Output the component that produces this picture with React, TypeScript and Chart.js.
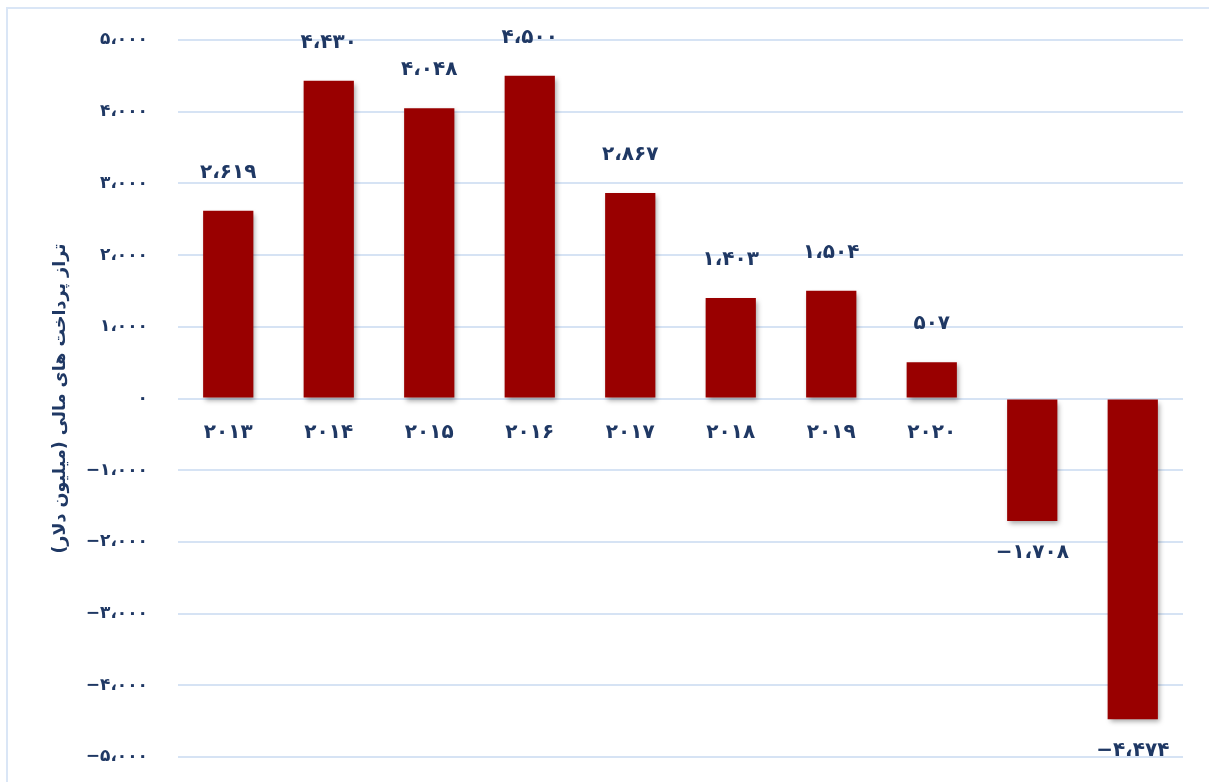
import React, { useEffect, useRef } from "react";
import { Chart, registerables } from "chart.js";

Chart.register(...registerables);

const years = ["2013", "2014", "2015", "2016", "2017", "2018", "2019", "2020", "2021", "2022"];
const balance = [2619, 4430, 4048, 4500, 2867, 1403, 1504, 507, -1708, -4474];
const yMin = -5000;
const yMax = 5000;
const yStep = 1000;
const yTitle = "تراز پرداخت های مالی (میلیون دلار)";

const FA_DIGITS = "۰۱۲۳۴۵۶۷۸۹";
const faDigits = (s: string) => s.replace(/[0-9]/g, (d) => FA_DIGITS[Number(d)]);
const faNumber = (n: number) => {
  const abs = Math.abs(n).toLocaleString("en-US").replace(/,/g, "،");
  return (n < 0 ? "−" : "") + faDigits(abs);
};

const NAVY = "#1F3864";
const FONT = "'DejaVu Sans', sans-serif";

const valueLabels = {
  id: "valueLabels",
  afterDatasetsDraw(chart: any) {
    const ctx = chart.ctx;
    const meta = chart.getDatasetMeta(0);
    ctx.save();
    ctx.font = `bold 20px ${FONT}`;
    ctx.fillStyle = NAVY;
    ctx.textAlign = "center";
    ctx.textBaseline = "middle";
    meta.data.forEach((bar: any, i: number) => {
      const v = balance[i];
      const y = v >= 0 ? bar.y - 38 : bar.y + 32;
      ctx.fillText(faNumber(v), bar.x, y);
    });
    ctx.restore();
  },
};

const barShadow = {
  id: "barShadow",
  beforeDatasetDraw(chart: any) {
    const ctx = chart.ctx;
    ctx.save();
    ctx.shadowColor = "rgba(0,0,0,0.35)";
    ctx.shadowBlur = 5;
    ctx.shadowOffsetX = 2;
    ctx.shadowOffsetY = 3;
  },
  afterDatasetDraw(chart: any) {
    chart.ctx.restore();
  },
};

export default function App() {
  const ref = useRef<HTMLCanvasElement | null>(null);

  useEffect(() => {
    document.documentElement.style.overflow = "hidden";
    document.body.style.overflow = "hidden";
    if (!ref.current) return;
    const chart = new Chart(ref.current, {
      type: "bar",
      data: {
        labels: years.map(faDigits),
        datasets: [
          {
            data: balance,
            backgroundColor: "#990000",
            borderWidth: 0,
            barPercentage: 0.5,
            categoryPercentage: 1,
          },
        ],
      },
      options: {
        animation: false,
        responsive: false,
        maintainAspectRatio: false,
        layout: { padding: { top: 31, bottom: 25, left: 0, right: 26 } },
        plugins: {
          legend: { display: false },
          tooltip: { enabled: false },
        },
        scales: {
          x: {
            type: "category",
            position: { y: 0 } as any,
            z: 1,
            grid: { display: false, drawTicks: false },
            border: { display: false },
            ticks: {
              padding: 22,
              color: NAVY,
              font: { family: FONT, size: 20, weight: "bold" },
              maxRotation: 0,
            },
          },
          y: {
            min: yMin,
            max: yMax,
            ticks: {
              stepSize: yStep,
              padding: 30,
              color: NAVY,
              font: { family: FONT, size: 17, weight: "bold" },
              callback: (v: any) => faNumber(Number(v)),
            },
            grid: { color: "#D6E3F4", lineWidth: 2, drawTicks: false },
            border: { display: false },
            title: {
              display: true,
              text: yTitle,
              color: NAVY,
              font: { family: FONT, size: 17.5, weight: "bold" },
              padding: { top: 42, bottom: 0 },
            },
            afterFit: (scale: any) => {
              scale.width = 170;
              scale.paddingTop = 0;
              scale.paddingBottom = 0;
            },
          },
        },
      },
      plugins: [barShadow, valueLabels],
    });
    return () => chart.destroy();
  }, []);

  return (
    <div
      style={{
        position: "absolute",
        left: 6,
        top: 7,
        borderLeft: "2px solid #DAE6F6",
        borderTop: "2px solid #DAE6F6",
      }}
    >
      <canvas ref={ref} width={1201} height={773} style={{ display: "block", width: 1201, height: 773 }} />
    </div>
  );
}
